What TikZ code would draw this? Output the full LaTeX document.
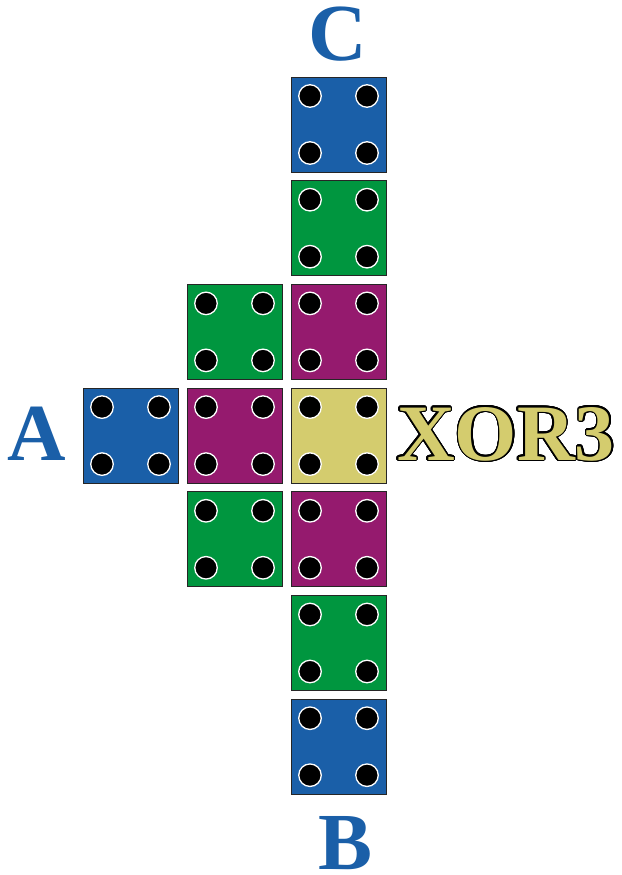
\documentclass[tikz,border=0pt]{standalone}
\usepackage{fontspec}
\setmainfont{Liberation Serif}[BoldFont={Liberation Serif Bold}]
\newfontfamily\lblfont{Liberation Serif Bold}
\usepackage[copies]{contour}
\contourlength{1.3pt}
\contournumber{24}
\definecolor{cblue}{HTML}{1A5FA8}
\definecolor{cgreen}{HTML}{00963F}
\definecolor{cpurple}{HTML}{951A6E}
\definecolor{cyellow}{HTML}{D4CC6E}
\newcommand\mytile[4]{%
  \node[sq, fill=#4] (#1) at (#2,#3) {};
  \node[hole] (#1-a) at ([shift={(-28.5,-28.5)}]#1.center) {};
  \node[hole] (#1-b) at ([shift={(28.5,-28.5)}]#1.center) {};
  \node[hole] (#1-c) at ([shift={(-28.5,28.5)}]#1.center) {};
  \node[hole] (#1-d) at ([shift={(28.5,28.5)}]#1.center) {};
}
\begin{document}
\begin{tikzpicture}[x=1pt,y=-1pt,
  sq/.style={draw=black!85, line width=0.9pt, minimum size=95pt, inner sep=0pt},
  hole/.style={circle, fill=black, draw=white, line width=1.3pt, minimum size=22.5pt, inner sep=0pt},
  lbl/.style={font=\fontsize{81}{81}\lblfont, text=cblue, inner sep=0pt, anchor=base}]
\useasboundingbox (0,0) rectangle (621,875);
% column 3
\mytile{c0}{338.5}{124.5}{cblue}
\mytile{c1}{338.5}{228.2}{cgreen}
\mytile{c2}{338.5}{331.9}{cpurple}
\mytile{c3}{338.5}{435.6}{cyellow}
\mytile{c4}{338.5}{539.3}{cpurple}
\mytile{c5}{338.5}{643.0}{cgreen}
\mytile{c6}{338.5}{746.7}{cblue}
% column 2
\mytile{b2}{234.5}{331.9}{cgreen}
\mytile{b3}{234.5}{435.6}{cpurple}
\mytile{b4}{234.5}{539.3}{cgreen}
% column 1
\mytile{a3}{130.5}{435.6}{cblue}
% labels
\node[lbl] (lC) at (338,61) {C};
\node[lbl] (lA) at (37,460) {A};
\node[lbl] (lB) at (346,869) {B};
\node[font=\fontsize{80}{80}\lblfont, inner sep=0pt, anchor=base] (lX) at (506,460) {\contour{black}{\textcolor{cyellow}{XOR3}}};
\end{tikzpicture}
\end{document}
